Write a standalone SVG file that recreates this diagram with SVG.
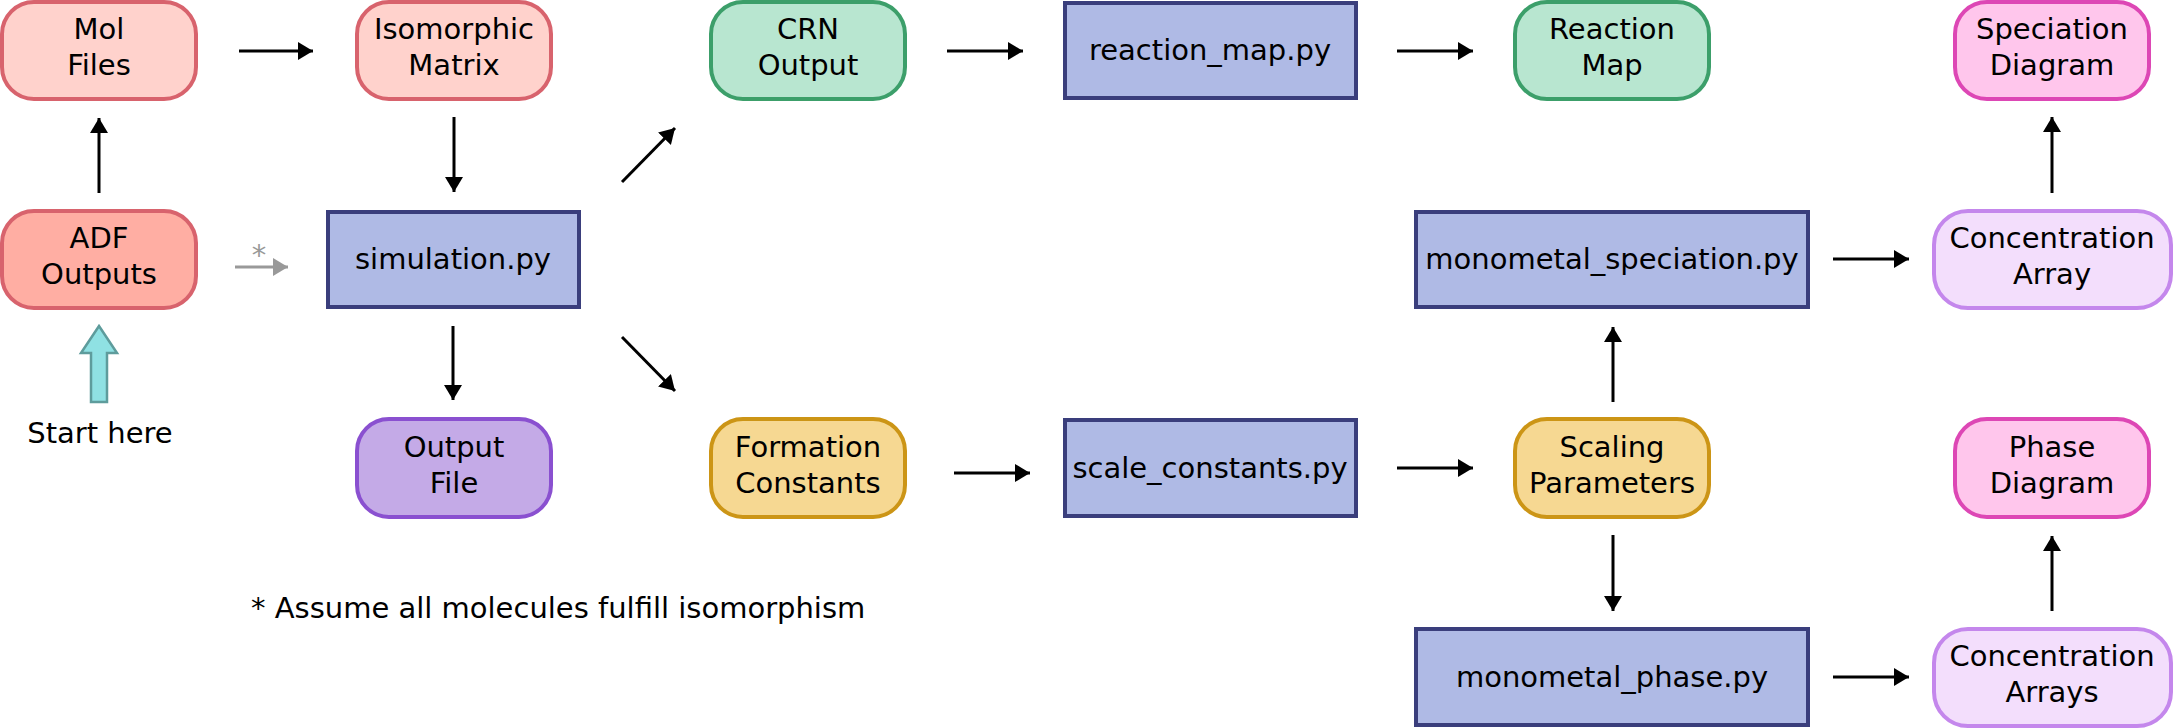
<svg xmlns="http://www.w3.org/2000/svg" width="2173" height="728" viewBox="0 0 2173 728">
<defs>
<marker id="ah" markerUnits="userSpaceOnUse" markerWidth="16" markerHeight="20" refX="15" refY="9" orient="auto">
<path d="M0,0 L15,9 L0,18 z" fill="#000"/>
</marker>
<marker id="ahg" markerUnits="userSpaceOnUse" markerWidth="16" markerHeight="20" refX="15" refY="9" orient="auto">
<path d="M0,0 L15,9 L0,18 z" fill="#999"/>
</marker>
<style>
text{font-family:"DejaVu Sans",sans-serif;font-size:29px;fill:#000;text-anchor:middle}
.n{stroke-width:4}
.red{fill:#FFD2CC;stroke:#D8636D}
.adf{fill:#FFAEA3;stroke:#D8636D}
.grn{fill:#B8E6D0;stroke:#3C9F6A}
.py{fill:#AFBAE5;stroke:#3A3E7C}
.out{fill:#C4AAE7;stroke:#8A50D0}
.yel{fill:#F6D892;stroke:#CC9516}
.pnk{fill:#FFC6EC;stroke:#DD47B5}
.lil{fill:#F3DEFC;stroke:#C487EC}
.c line{stroke:#000;stroke-width:3;marker-end:url(#ah)}
</style>
</defs>
<g id="mol-files"><rect class="n red" x="2" y="2" width="194" height="97" rx="32"/><text x="99" y="39">Mol</text><text x="99" y="75">Files</text></g>
<g id="isomorphic-matrix"><rect class="n red" x="357" y="2" width="194" height="97" rx="32"/><text x="454" y="39">Isomorphic</text><text x="454" y="75">Matrix</text></g>
<g id="crn-output"><rect class="n grn" x="711" y="2" width="194" height="97" rx="32"/><text x="808" y="39">CRN</text><text x="808" y="75">Output</text></g>
<g id="reaction-map-py"><rect class="n py" x="1065" y="3" width="291" height="95"/><text x="1210" y="60">reaction_map.py</text></g>
<g id="reaction-map"><rect class="n grn" x="1515" y="2" width="194" height="97" rx="32"/><text x="1612" y="39">Reaction</text><text x="1612" y="75">Map</text></g>
<g id="speciation-diagram"><rect class="n pnk" x="1955" y="2" width="194" height="97" rx="32"/><text x="2052" y="39">Speciation</text><text x="2052" y="75">Diagram</text></g>
<g id="adf-outputs"><rect class="n adf" x="2" y="211" width="194" height="97" rx="32"/><text x="99" y="248">ADF</text><text x="99" y="284">Outputs</text></g>
<g id="simulation-py"><rect class="n py" x="328" y="212" width="251" height="95"/><text x="453" y="269">simulation.py</text></g>
<g id="monometal-speciation-py"><rect class="n py" x="1416" y="212" width="392" height="95"/><text x="1612" y="269">monometal_speciation.py</text></g>
<g id="concentration-array"><rect class="n lil" x="1934" y="211" width="237" height="97" rx="34"/><text x="2052" y="248">Concentration</text><text x="2052" y="284">Array</text></g>
<g id="output-file"><rect class="n out" x="357" y="419" width="194" height="98" rx="32"/><text x="454" y="457">Output</text><text x="454" y="493">File</text></g>
<g id="formation-constants"><rect class="n yel" x="711" y="419" width="194" height="98" rx="32"/><text x="808" y="457">Formation</text><text x="808" y="493">Constants</text></g>
<g id="scale-constants-py"><rect class="n py" x="1065" y="420" width="291" height="96"/><text x="1210" y="478">scale_constants.py</text></g>
<g id="scaling-parameters"><rect class="n yel" x="1515" y="419" width="194" height="98" rx="32"/><text x="1612" y="457">Scaling</text><text x="1612" y="493">Parameters</text></g>
<g id="phase-diagram"><rect class="n pnk" x="1955" y="419" width="194" height="98" rx="32"/><text x="2052" y="457">Phase</text><text x="2052" y="493">Diagram</text></g>
<g id="monometal-phase-py"><rect class="n py" x="1416" y="629" width="392" height="96"/><text x="1612" y="687">monometal_phase.py</text></g>
<g id="concentration-arrays"><rect class="n lil" x="1934" y="629" width="237" height="97" rx="34"/><text x="2052" y="666">Concentration</text><text x="2052" y="702">Arrays</text></g>
<g id="start-here"><polygon points="99,326 117,353 107,353 107,402 91,402 91,353 81,353" fill="#8FE1E3" stroke="#5E9C9C" stroke-width="2.5" stroke-linejoin="miter"/><text x="100" y="443">Start here</text></g>
<g id="footnote"><text x="251" y="618" style="text-anchor:start">* Assume all molecules fulfill isomorphism</text></g>
<g id="connectors" class="c">
<line x1="239" y1="51" x2="313" y2="51"/>
<line x1="99" y1="193" x2="99" y2="118"/>
<line x1="454" y1="117" x2="454" y2="192"/>
<line x1="622" y1="182" x2="675" y2="128"/>
<line x1="622" y1="337" x2="675" y2="391"/>
<line x1="453" y1="326" x2="453" y2="400"/>
<line x1="947" y1="51" x2="1023" y2="51"/>
<line x1="1397" y1="51" x2="1473" y2="51"/>
<line x1="954" y1="473" x2="1030" y2="473"/>
<line x1="1397" y1="468" x2="1473" y2="468"/>
<line x1="1613" y1="402" x2="1613" y2="327"/>
<line x1="1613" y1="535" x2="1613" y2="611"/>
<line x1="1833" y1="259" x2="1909" y2="259"/>
<line x1="1833" y1="677" x2="1909" y2="677"/>
<line x1="2052" y1="193" x2="2052" y2="117"/>
<line x1="2052" y1="611" x2="2052" y2="536"/>
<line x1="235" y1="267" x2="288" y2="267" style="stroke:#999;marker-end:url(#ahg)"/>
<text x="259" y="265" style="fill:#999">*</text>
</g>
</svg>
